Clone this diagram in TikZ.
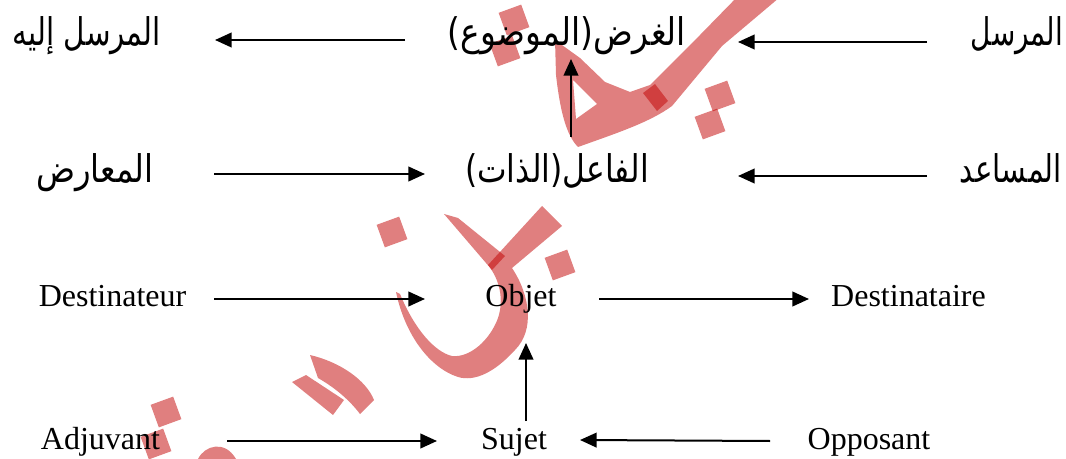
\documentclass[tikz,border=0pt]{standalone}
\usepackage{fontspec}
\setmainfont{Liberation Serif}
\newfontfamily\arabicfont[Script=Arabic]{DejaVu Sans}
\TeXXeTstate=1
\usetikzlibrary{arrows.meta}
\definecolor{wmred}{RGB}{193,0,0}
\begin{document}
\begin{tikzpicture}[x=0.75pt,y=-0.75pt,
  wm/.style={fill=wmred,fill opacity=0.5},
  lat/.style={font=\fontsize{24}{28}\selectfont, inner sep=0pt, anchor=base},
  ar/.style={font=\arabicfont\fontsize{22}{26}\selectfont, inner sep=0pt, anchor=base},
  arr/.style={line width=1.5pt, -{Triangle[length=12.5pt,width=11pt]}}]
\useasboundingbox (0,0) rectangle (1066,459);
% ---------- watermark ----------
\fill[wm, even odd rule] (555,40) -- (580,58) -- (605,82) -- (630,92) -- (650,85)
   -- (700,35) -- (742,-8) -- (786,-8) -- (722,46) -- (672,106)
   .. controls (650,122) and (620,132) .. (578,147)
   .. controls (566,135) and (560,110) .. (556,75) -- cycle
   (573,80) -- (597,104) -- (576,119) -- cycle;
\fill[wm] (643,93) -- (655,84) -- (668,101) -- (657,111) -- cycle;
\fill[wm] (542,206) -- (562,226) -- (512,268)
   .. controls (530,295) and (535,330) .. (515,350)
   .. controls (495,372) and (475,382) .. (458,377)
   .. controls (430,368) and (405,335) .. (396,292)
   -- (400,294)
   .. controls (415,330) and (435,352) .. (452,356)
   .. controls (470,358) and (490,340) .. (498,318)
   .. controls (504,300) and (500,280) .. (488,265) -- cycle;
\fill[wm] (444,214) -- (458,218) -- (505,256) -- (492,270) -- cycle;
\fill[wm] (310,355) .. controls (340,362) and (366,380) .. (374,400)
   -- (360,414) .. controls (348,398) and (332,386) .. (318,378) -- cycle;
\fill[wm] (292,382) -- (306,375) -- (344,400) -- (333,415) -- cycle;
\fill[wm] (198,459) .. controls (205,445) and (225,440) .. (236,459) -- cycle;
\foreach \cx/\cy in {514/20, 505/51, 720/96, 710/124, 560/265, 392/232, 166/412, 156/444}
  \fill[wm, shift={(\cx,\cy)}, rotate=20] (-12,-12) rectangle (12,12);
% ---------- nodes ----------
\node[ar] (mrsI) at (87,46)    {\scalebox{1.0}[1.3]{\beginR المرسل إليه\endR}};
\node[ar] (ghrd) at (567,46)   {\scalebox{1.12}[1.3]{\beginR الغرض(الموضوع)\endR}};
\node[ar] (mrs)  at (1017,46)  {\scalebox{0.95}[1.3]{\beginR المرسل\endR}};
\node[ar] (muar) at (95,183)   {\scalebox{1.1}[1.3]{\beginR المعارض\endR}};
\node[ar] (fail) at (557,183)  {\scalebox{1.07}[1.3]{\beginR الفاعل(الذات)\endR}};
\node[ar] (musa) at (1011,183) {\scalebox{1.0}[1.3]{\beginR المساعد\endR}};
\node[lat] (dst)  at (112.5,306) {Destinateur};
\node[lat] (obj)  at (521,306)   {Objet};
\node[lat] (dsta) at (908.5,306) {Destinataire};
\node[lat] (adj)  at (100.5,449) {Adjuvant};
\node[lat] (suj)  at (514,449)   {Sujet};
\node[lat] (opp)  at (869,449)   {Opposant};
% ---------- connector ends ----------
\coordinate (a1s) at (405,40);  \coordinate (a1e) at (215,40);
\coordinate (a2s) at (927,42);  \coordinate (a2e) at (738,42);
\coordinate (a3s) at (214,174); \coordinate (a3e) at (425,174);
\coordinate (a4s) at (927,176); \coordinate (a4e) at (738,176);
\coordinate (v1s) at (571,137); \coordinate (v1e) at (571,59);
\coordinate (a5s) at (214,299); \coordinate (a5e) at (425,299);
\coordinate (a6s) at (599,299); \coordinate (a6e) at (809,299);
\coordinate (v2s) at (526,421); \coordinate (v2e) at (526,343);
\coordinate (a7s) at (227,441); \coordinate (a7e) at (437,441);
\coordinate (a8s) at (770,441); \coordinate (a8e) at (580,440);
\foreach \p in {a1,a2,a3,a4,v1,a5,a6,v2,a7,a8}
  \draw[arr] (\p s) -- (\p e);
\end{tikzpicture}
\end{document}
